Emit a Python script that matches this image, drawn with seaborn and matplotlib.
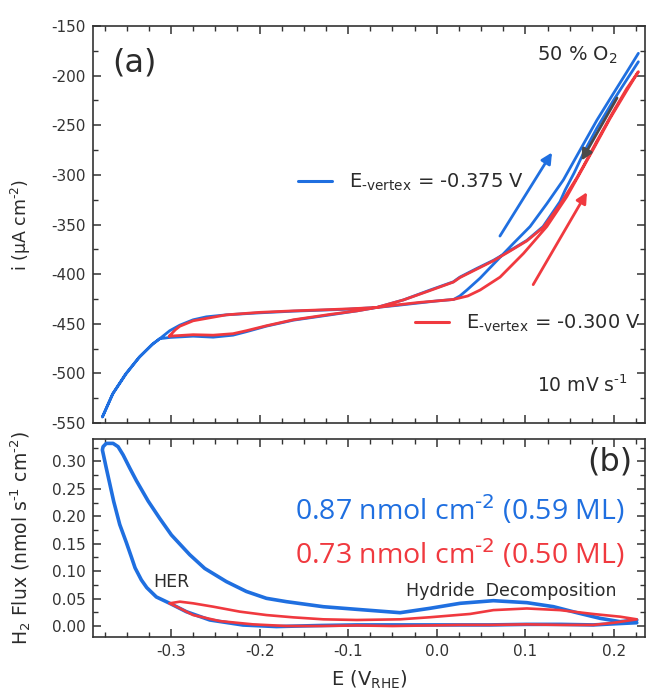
import numpy as np
import pandas as pd
import matplotlib
matplotlib.use("Agg")
import matplotlib.pyplot as plt
import seaborn as sns
from matplotlib.ticker import MultipleLocator, FormatStrFormatter
from matplotlib.lines import Line2D

# ---------------- data ----------------
# Panel (a): CV, E_vertex = -0.375 V (blue)
cv_blue_E = [0.2275, 0.214, 0.1993, 0.1806, 0.1617, 0.1429, 0.1242, 0.1053, 0.0865, 0.065,
             0.0489, 0.034, 0.026, 0.019,
             0.0, -0.02, -0.045, -0.068,
             -0.1, -0.13, -0.162, -0.2, -0.2375, -0.26, -0.275, -0.29, -0.3014, -0.3126,
             -0.320, -0.3352, -0.3503, -0.3653, -0.3774,
             -0.3660, -0.3515, -0.3365, -0.3215, -0.3126,
             -0.3014, -0.275, -0.2524, -0.23, -0.2149, -0.1923, -0.162, -0.12, -0.09, -0.068,
             -0.0377, -0.0076, 0.0187, 0.026, 0.045, 0.064, 0.083, 0.1016, 0.12, 0.139,
             0.145, 0.155, 0.1656, 0.1806, 0.1993, 0.2144, 0.2275]
cv_blue_i = [-177.5, -197, -218, -245, -275, -305, -329, -352, -369, -389,
             -404, -416, -422, -425.5,
             -427, -429, -431.5, -433.6,
             -435.3, -436.3, -437.3, -439, -441, -443, -446, -451.4, -457, -465,
             -470, -483, -500, -520, -544,
             -521, -501, -484.5, -471, -465,
             -463.8, -462.5, -463.5, -461.5, -458, -452.4, -446.4, -441, -437, -433.6,
             -426, -416, -407.7, -403, -394.3, -386, -376, -366, -352, -327,
             -315, -298, -278, -253, -225, -204, -186]

# Panel (a): CV, E_vertex = -0.300 V (red)
cv_red_E = [-0.302, -0.295, -0.29, -0.275, -0.2375, -0.2, -0.162, -0.13, -0.1, -0.068,
            -0.045, -0.02, 0.0, 0.0187, 0.035, 0.0489, 0.0714, 0.098, 0.1242, 0.1467,
            0.158, 0.1767, 0.1956, 0.2144, 0.2275,
            0.2144, 0.1993, 0.1806, 0.1656, 0.158, 0.139, 0.12, 0.1016, 0.083, 0.064, 0.045,
            0.026, 0.0187, -0.0076, -0.0377, -0.068, -0.09, -0.12, -0.162, -0.1923, -0.2149,
            -0.23, -0.2524, -0.275, -0.302]
cv_red_i = [-462.5, -456, -452.5, -447, -441, -438.5, -437, -436, -435, -433.6,
            -431, -428.5, -427, -425.5, -422, -416, -403, -379, -352, -322,
            -304, -274, -243, -215, -196,
            -213, -236, -266, -291, -303, -330, -353, -366.5, -376.5, -386.5, -395,
            -403.5, -408, -416.5, -426, -433.6, -437, -440.5, -446, -452, -457,
            -460, -461.5, -461, -462.5]

# Panel (b): H2 flux, blue
flux_blue_E = [0.2257, 0.2, 0.1767, 0.14, 0.1016, 0.06, 0.0263, -0.01, -0.05, -0.09, -0.1303,
               -0.181, -0.2186, -0.2562, -0.2826, -0.3014, -0.3165, -0.3273, -0.3334,
               -0.3405, -0.3447, -0.3503, -0.3578, -0.3646, -0.373, -0.3774, -0.3766,
               -0.373, -0.3653, -0.3597, -0.354, -0.3465, -0.339, -0.3258, -0.3126,
               -0.2995, -0.2788, -0.2619, -0.2375, -0.2149, -0.1923, -0.1697, -0.128,
               -0.0903, -0.0414, -0.0076, 0.0263, 0.0639, 0.1016, 0.1316, 0.158, 0.1843,
               0.2069, 0.2257]
flux_blue = [0.006, 0.004, 0.002, 0.003, 0.003, 0.002, 0.002, 0.002, 0.002, 0.002, 0.001,
             -0.001, 0.0018, 0.011, 0.0261, 0.0414, 0.053, 0.070, 0.084,
             0.106, 0.126, 0.152, 0.185, 0.227, 0.288, 0.321, 0.327,
             0.333, 0.333, 0.327, 0.312, 0.288, 0.265, 0.228, 0.196,
             0.166, 0.130, 0.105, 0.081, 0.063, 0.0505, 0.0444, 0.0352,
             0.0304, 0.0243, 0.0323, 0.0414, 0.0462, 0.0426, 0.0353, 0.0243, 0.014,
             0.0079, 0.011]

# Panel (b): H2 flux, red
flux_red_E = [-0.3014, -0.290, -0.275, -0.2525, -0.2223, -0.1923, -0.162, -0.128, -0.0903,
              -0.0414, -0.0076, 0.0376, 0.0639, 0.1016, 0.139, 0.1767, 0.207, 0.2257,
              0.2, 0.1767, 0.14, 0.1016, 0.06, 0.0263, -0.01, -0.05, -0.09, -0.13,
              -0.1697, -0.2073, -0.245, -0.275, -0.290, -0.3014]
flux_red = [0.0414, 0.0444, 0.0414, 0.0353, 0.0262, 0.020, 0.0158, 0.0122, 0.011,
            0.0122, 0.016, 0.022, 0.029, 0.032, 0.029, 0.0219, 0.017, 0.0122,
            0.006, 0.002, 0.002, 0.003, 0.002, 0.002, 0.001, 0.0, 0.001, 0.0,
            0.0, 0.003, 0.009, 0.020, 0.0323, 0.0414]

legend_labels = [r"E$_{\text{-vertex}}$ = -0.375 V", r"E$_{\text{-vertex}}$ = -0.300 V"]
coverage_labels = [r"0.87 nmol cm$^{\text{-2}}$ (0.59 ML)", r"0.73 nmol cm$^{\text{-2}}$ (0.50 ML)"]

BLUE = "#1f6fe0"
RED = "#f0393f"
GREY = "#4a4a4a"
TXT = "#2b2b2b"

# ---------------- style ----------------
sns.set_theme(style="ticks")
plt.rcParams["font.family"] = ["DejaVu Sans"]
plt.rcParams["mathtext.default"] = "regular"
plt.rcParams["axes.unicode_minus"] = False
plt.rcParams["axes.edgecolor"] = "#333333"
plt.rcParams["axes.linewidth"] = 1.2
plt.rcParams["text.color"] = TXT
plt.rcParams["axes.labelcolor"] = TXT
plt.rcParams["xtick.color"] = "#333333"
plt.rcParams["ytick.color"] = "#333333"

fig = plt.figure(figsize=(6.48, 6.92), dpi=100)
ax1 = fig.add_axes([0.1435, 0.3887, 0.8519, 0.5737])
ax2 = fig.add_axes([0.1435, 0.0795, 0.8519, 0.2861])

df_b = pd.DataFrame({"E": cv_blue_E, "i": cv_blue_i})
df_r = pd.DataFrame({"E": cv_red_E, "i": cv_red_i})
sns.lineplot(data=df_b, x="E", y="i", sort=False, estimator=None, color=BLUE, lw=2.0, ax=ax1)
sns.lineplot(data=df_r, x="E", y="i", sort=False, estimator=None, color=RED, lw=2.0, ax=ax1)

fb = pd.DataFrame({"E": flux_blue_E, "f": flux_blue})
fr = pd.DataFrame({"E": flux_red_E, "f": flux_red})
sns.lineplot(data=fb, x="E", y="f", sort=False, estimator=None, color=BLUE, lw=2.6, ax=ax2)
sns.lineplot(data=fr, x="E", y="f", sort=False, estimator=None, color=RED, lw=1.9, ax=ax2)

for ax in (ax1, ax2):
    ax.set_xlim(-0.388, 0.235)
    ax.xaxis.set_major_locator(MultipleLocator(0.1))
    ax.xaxis.set_minor_locator(MultipleLocator(0.025))
    ax.tick_params(which="both", direction="in", top=True, right=True, labelsize=11, pad=5)
    ax.tick_params(which="major", length=6, width=1.1)
    ax.tick_params(which="minor", length=3.5, width=1.0)

ax1.set_ylim(-550, -150)
ax1.yaxis.set_major_locator(MultipleLocator(50))
ax1.yaxis.set_minor_locator(MultipleLocator(25))
ax1.tick_params(labelbottom=False)
ax1.set_xlabel("")
ax1.set_ylabel(r"i (μA cm$^{\text{-2}}$)", fontsize=12.5)
ax1.yaxis.set_label_coords(-0.109, 0.5)

ax2.set_ylim(-0.02, 0.341)
ax2.yaxis.set_major_locator(MultipleLocator(0.05))
ax2.yaxis.set_minor_locator(MultipleLocator(0.025))
ax2.yaxis.set_major_formatter(FormatStrFormatter("%.2f"))
ax2.xaxis.set_major_formatter(FormatStrFormatter("%.1f"))
ax2.set_ylabel(r"H$_2$ Flux (nmol s$^{\text{-1}}$ cm$^{\text{-2}}$)", fontsize=13.5)
ax2.yaxis.set_label_coords(-0.109, 0.5)
ax2.set_xlabel("E (V$_{RHE}$)", fontsize=14, labelpad=7)

# arrows
ax1.annotate("", xy=(0.1317, -275), xytext=(0.0696, -364),
             arrowprops=dict(arrowstyle="-|>", color=BLUE, lw=2, mutation_scale=16))
ax1.annotate("", xy=(0.1711, -315), xytext=(0.1072, -413),
             arrowprops=dict(arrowstyle="-|>", color=RED, lw=2, mutation_scale=16))
ax1.annotate("", xy=(0.1617, -288), xytext=(0.205, -220),
             arrowprops=dict(arrowstyle="-|>", color=GREY, lw=2, mutation_scale=16))

# legends
leg1 = ax1.legend(handles=[Line2D([], [], color=BLUE, lw=2.2)], labels=[legend_labels[0]],
                  loc="center left", bbox_to_anchor=(0.3714, 0.607), frameon=False,
                  borderpad=0, borderaxespad=0, handlelength=1.75, handletextpad=0.85,
                  fontsize=14)
ax1.add_artist(leg1)
leg2 = ax1.legend(handles=[Line2D([], [], color=RED, lw=2.2)], labels=[legend_labels[1]],
                  loc="center left", bbox_to_anchor=(0.5833, 0.2519), frameon=False,
                  borderpad=0, borderaxespad=0, handlelength=1.75, handletextpad=0.85,
                  fontsize=14)

# annotations panel (a)
ax1.text(0.034, 0.907, "(a)", transform=ax1.transAxes, fontsize=23, va="center", ha="left")
ax1.text(0.804, 0.926, "50 % O$_2$", transform=ax1.transAxes, fontsize=14, va="center", ha="left")
ax1.text(0.804, 0.096, r"10 mV s$^{\text{-1}}$", transform=ax1.transAxes, fontsize=13.5,
         va="center", ha="left")

# annotations panel (b)
ax2.text(0.9764, 0.884, "(b)", transform=ax2.transAxes, fontsize=23, va="center", ha="right")
ax2.text(0.9638, 0.639, coverage_labels[0], transform=ax2.transAxes, fontsize=20.5,
         va="center", ha="right", color=BLUE, family=["Open Sans", "DejaVu Sans"])
ax2.text(0.9638, 0.419, coverage_labels[1], transform=ax2.transAxes, fontsize=20.5,
         va="center", ha="right", color=RED, family=["Open Sans", "DejaVu Sans"])
ax2.text(0.567, 0.232, "Hydride  Decomposition", transform=ax2.transAxes, fontsize=12.5,
         va="center", ha="left")
ax2.text(0.1087, 0.278, "HER", transform=ax2.transAxes, fontsize=12.5, va="center", ha="left")

fig.savefig("out.png", dpi=100)
